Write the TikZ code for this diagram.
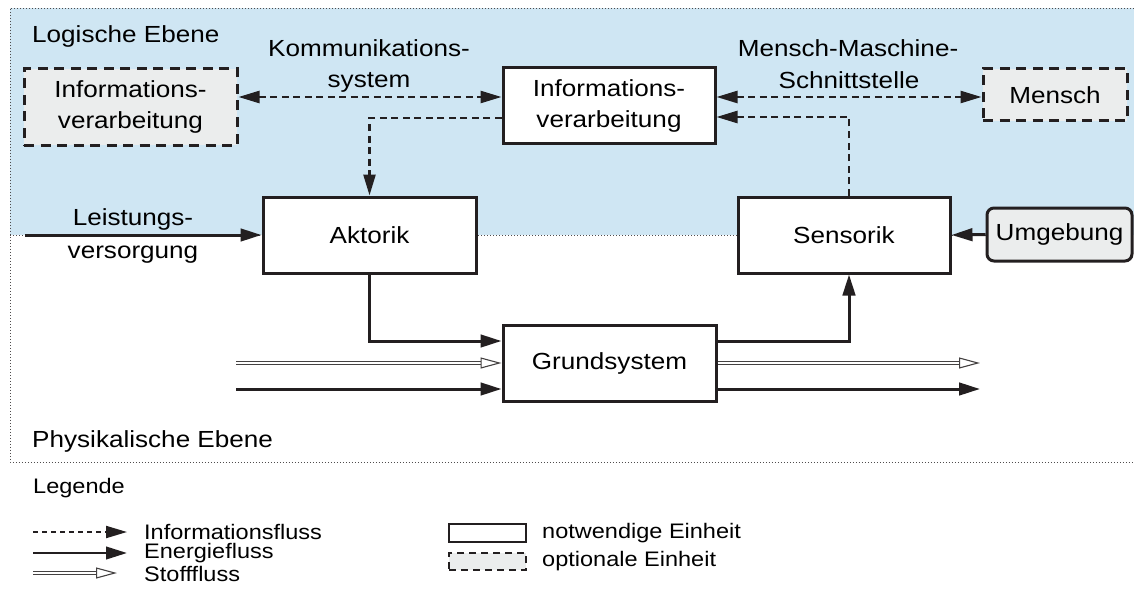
\documentclass[tikz,border=0pt]{standalone}
\usepackage{fontspec}
\setmainfont{Liberation Sans}[FakeStretch=1.12]
\usetikzlibrary{arrows.meta}
\definecolor{bgblue}{RGB}{207,230,243}
\definecolor{optgray}{RGB}{235,237,237}
\definecolor{ink}{RGB}{35,31,32}
\begin{document}
\begin{tikzpicture}[x=1pt,y=-1pt,
  font=\fontsize{23.3}{31}\selectfont,
  frame/.style={draw=ink!80, line width=0.9pt, dash pattern=on 1.3pt off 1.7pt},
  unitbox/.style={draw=ink, line width=3pt, fill=white, align=center, inner sep=0pt},
  optbox/.style={draw=ink, line width=3pt, dash pattern=on 10pt off 6.5pt, fill=optgray, align=center, inner sep=0pt},
  envbox/.style={draw=ink, line width=3pt, fill=optgray, rounded corners=7pt, align=center, inner sep=0pt},
  infoflow/.style={draw=ink, line width=2.5pt, dash pattern=on 7pt off 4.5pt, -{Triangle[length=21pt,width=12pt]}},
  infoboth/.style={infoflow, {Triangle[length=21pt,width=12pt]}-{Triangle[length=21pt,width=12pt]}},
  energyflow/.style={draw=ink, line width=3pt, -{Triangle[length=21pt,width=12.5pt]}},
  stoffline/.style={draw=ink!85, line width=1.1pt, double=white, double distance=2.4pt, shorten >=19pt},
  stofftip/.style={draw=ink!85, line width=1.1pt, -{Triangle[open,length=21pt,width=11pt,fill=white]}},
  lbl/.style={inner sep=0pt, anchor=base},
  lblw/.style={inner sep=0pt, anchor=base west},
  leg/.style={inner sep=0pt, anchor=west, font=\fontsize{21}{26}\selectfont}
]
\useasboundingbox (0,0) rectangle (1134,599);
% levels
\fill[bgblue] (10,8) rectangle (1134,235);
\draw[frame] (1134,8) -- (10,8) -- (10,462) -- (1134,462);
\draw[frame] (10,235) -- (1134,235);

\node[lblw] (logisch) at (32,43) {Logische Ebene};
\node[lblw] (physik) at (32,447) {Physikalische Ebene};

% units
\node[optbox, minimum width=213pt, minimum height=76pt] (ivopt) at (130.5,107) {Informations-\\verarbeitung};
\node[unitbox, minimum width=212pt, minimum height=75pt] (iv) at (609,105.5) {Informations-\\verarbeitung};
\node[optbox, minimum width=144pt, minimum height=52pt] (mensch) at (1055,95) {Mensch};
\node[unitbox, minimum width=213pt, minimum height=76pt] (akt) at (369.5,235) {Aktorik};
\node[unitbox, minimum width=212pt, minimum height=76pt] (sens) at (844,235) {Sensorik};
\node[envbox, minimum width=145pt, minimum height=53pt] (umg) at (1059.5,234.5) {Umgebung};
\node[unitbox, minimum width=213pt, minimum height=76pt] (grund) at (609.5,363) {Grundsystem};

% labels
\node[lbl] (kom1) at (369,57) {Kommunikations-};
\node[lbl] (kom2) at (369,88) {system};
\node[lbl] (mms1) at (848,57) {Mensch-Maschine-};
\node[lbl] (mms2) at (849,89) {Schnittstelle};
\node[lbl] (lv1) at (133,225) {Leistungs-};
\node[lbl] (lv2) at (133,258) {versorgung};

% helper coordinates
\coordinate (yk) at (0,97);
\coordinate (ya) at (0,118);
\coordinate (ys) at (0,117);
\coordinate (ye) at (0,341);
\coordinate (yen) at (0,389);
\coordinate (lvstart) at (25,235);
\coordinate (sin) at (236,363);
\coordinate (ein) at (236,389);
\coordinate (sout) at (980,363);
\coordinate (eout) at (980,389);
\coordinate (sensx) at ([xshift=5pt]sens.north);
\coordinate (sensxs) at ([xshift=5pt]sens.south);

% information flows
\draw[infoboth] (ivopt.east |- yk) -- (iv.west |- yk);
\draw[infoboth] (iv.east |- yk) -- (mensch.west |- yk);
\draw[infoflow] (iv.west |- ya) -| (akt.north);
\draw[infoflow] (sensx) |- (iv.east |- ys);

% energy flows
\draw[energyflow] (lvstart) -- (akt.west);
\draw[energyflow] (umg.west) -- (sens.east);
\draw[energyflow] (akt.south) |- (grund.west |- ye);
\draw[energyflow] (grund.east |- ye) -| (sensxs);
\draw[energyflow] (ein) -- (grund.west |- yen);
\draw[energyflow] (grund.east |- yen) -- (eout);

% material flows
\draw[stoffline] (sin) -- (grund.west);
\draw[stofftip] ([xshift=-21pt]grund.west) -- (grund.west);
\draw[stoffline] (grund.east) -- (sout);
\draw[stofftip] ([xshift=-21pt]sout) -- (sout);

% legend
\node[lblw, font=\fontsize{21}{26}\selectfont] (legende) at (33,493) {Legende};
\coordinate (la1) at (33,532); \coordinate (lb1) at (127,532);
\coordinate (la2) at (33,553); \coordinate (lb2) at (127,553);
\coordinate (la3) at (33,573); \coordinate (lb3) at (117,573);
\draw[infoflow, line width=2pt, dash pattern=on 5pt off 4pt] (la1) -- (lb1);
\draw[energyflow, line width=2.5pt] (la2) -- (lb2);
\draw[stoffline] (la3) -- (lb3);
\draw[stofftip] ([xshift=-21pt]lb3) -- (lb3);
\node[leg] (t1) at (144,532) {Informationsfluss};
\node[leg] (t2) at (144,553) {Energiefluss};
\node[leg] (t3) at (144,574) {Stofffluss};
\node[unitbox, line width=2.5pt, minimum width=77pt, minimum height=18pt] (lunit) at (487.5,533) {};
\node[optbox, line width=2.5pt, dash pattern=on 7pt off 5pt, minimum width=77pt, minimum height=17pt] (lopt) at (487.5,561.5) {};
\node[leg] (t4) at (542,533) {notwendige Einheit};
\node[leg] (t5) at (542,561) {optionale Einheit};
\end{tikzpicture}
\end{document}
